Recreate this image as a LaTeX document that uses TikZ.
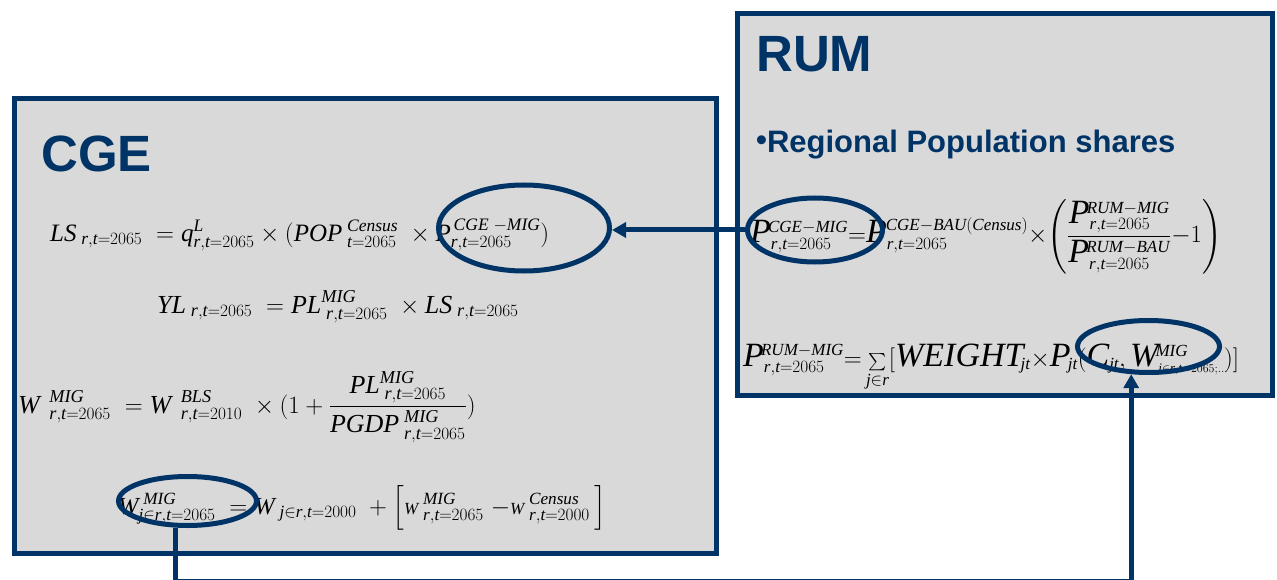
\documentclass[tikz,border=0pt]{standalone}
\usepackage{amsmath}
\usepackage{fontspec}
\setmainfont{Liberation Serif}
\newfontfamily\headfont{Liberation Sans}
\usetikzlibrary{shapes.geometric,arrows.meta}
\definecolor{navy}{RGB}{0,51,102}
\definecolor{panel}{RGB}{217,217,217}
% half-size scripts for the RUM formulas
\DeclareMathSizes{34}{34}{17}{13}
\newcommand\I[1]{\mathit{#1}}
\newcommand\rt[1]{\I{r},\I{t}=#1}
\newcommand\jrt[1]{\I{j}\in\I{r},\I{t}=#1}
\newcommand\smallW{\text{\fontsize{17}{17}\selectfont\itshape W}}
\begin{document}
\begin{tikzpicture}[x=1pt,y=-1pt,
  panelbox/.style={draw=navy,fill=panel,line width=5pt,inner sep=0pt,anchor=north west},
  ring/.style={ellipse,draw=navy,line width=5pt,inner sep=0pt},
  conn/.style={draw=navy,line width=5pt},
  tip/.style={-{Triangle[length=14pt,width=15pt]}},
  title/.style={anchor=base west,text=navy,inner sep=0pt,font=\headfont\bfseries\fontsize{51}{51}\selectfont},
  bullet/.style={anchor=base west,text=navy,inner sep=0pt,font=\headfont\bfseries\fontsize{31}{31}\selectfont},
  eq/.style={anchor=base west,inner sep=0pt,font=\fontsize{26}{30}\selectfont},
  eqa/.style={eq,font=\fontsize{25}{30}\selectfont},
  eqb/.style={eq,font=\fontsize{24.5}{28}\selectfont},
  eqrum/.style={eq,font=\fontsize{34}{38}\selectfont}]
\useasboundingbox (0,0) rectangle (1277,580);

% panels
\node[panelbox,minimum width=702pt,minimum height=455pt] (cge) at (12,96) {};
\node[panelbox,minimum width=535pt,minimum height=382pt] (rum) at (735,11) {};

% titles
\node[title] (cgetitle) at (41,172) {CGE};
\node[title] (rumtitle) at (756,72) {RUM};
\node[bullet] (shares) at (756,153) {\raisebox{2pt}{•}Regional Population shares};

% CGE equations
\node[eqa] (eqls) at (50,241)
  {$\I{LS}_{\;\rt{2065}}\;=\I{q}^{\I{L}}_{\rt{2065}}\times(\I{POP}^{\;\I{Census}}_{\;\I{t}=2065}\;\times\I{P}^{\,\I{CGE}\;-\I{MIG}}_{\rt{2065}})$};
\node[eq] (eqyl) at (157,313)
  {$\I{YL}_{\;\rt{2065}}\;=\I{PL}^{\I{MIG}}_{\;\rt{2065}}\;\times\I{LS}_{\;\rt{2065}}$};
\node[eq] (eqw) at (18,413)
  {$\displaystyle\I{W}^{\;\;\I{MIG}}_{\;\;\rt{2065}}\;=\I{W}^{\;\;\I{BLS}}_{\;\;\rt{2010}}\;\times(1+\frac{\I{PL}^{\I{MIG}}_{\;\rt{2065}}}{\I{PGDP}^{\;\I{MIG}}_{\;\rt{2065}}})$};
\node[eqb] (eqwj) at (118,514)
  {$\I{W}^{\;\I{MIG}}_{\jrt{2065}}\;=\I{W}_{\;\jrt{2000}}\;+\Big[\smallW^{\;\I{MIG}}_{\;\rt{2065}}\;{-}\smallW^{\;\I{Census}}_{\;\rt{2000}}\,\Big]$};

% RUM equations
\node[eqrum] (eqshare) at (750,243)
  {$\displaystyle\I{P}^{\!\I{CGE}{-}\I{MIG}}_{\rt{2065}}{=}\I{P}^{\mkern-1mu\I{CGE}{-}\I{BAU}(\I{Census})}_{\rt{2065}}{\times}\!\left(\frac{\I{P}^{\!\I{RUM}{-}\I{MIG}}_{\rt{2065}}}{\I{P}^{\!\I{RUM}{-}\I{BAU}}_{\rt{2065}}}{-}1\right)$};
\node[eqrum] (eqrummig) at (743,366)
  {$\I{P}^{\!\I{RUM}{-}\I{MIG}}_{\rt{2065}}{=}\mathop{\scriptstyle\sum}\limits_{\I{j}\in\I{r}}[\I{WEIGHT}_{\!\I{jt}}{\times}\I{P}_{\!\I{jt}}(\I{C}_{\I{jt}},\I{W}^{\!\I{MIG}}_{\scriptscriptstyle\jrt{2065};\dots}\!)]$};

% highlighted terms
\node[ring,minimum width=171pt,minimum height=86pt] (e1) at (524,228) {};
\node[ring,minimum width=135pt,minimum height=64pt] (e2) at (815,230) {};
\node[ring,minimum width=142pt,minimum height=52pt] (e3) at (1148.5,346.5) {};
\node[ring,minimum width=138pt,minimum height=49pt] (e4) at (187.5,501) {};

% links
\coordinate (low) at (0,581.5);
\draw[conn,tip] (e2.west) -- (e2.west -| e1.east);
\draw[conn,tip] (e4.246.5) -- (e4.246.5 |- low) -| (e3.238.6);
\end{tikzpicture}
\end{document}
